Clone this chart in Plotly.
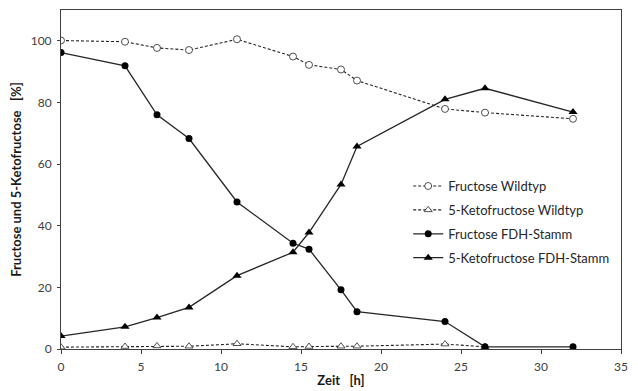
import plotly.graph_objects as go

x_wt = [0, 4, 6, 8, 11, 14.5, 15.5, 17.5, 18.5, 24, 26.5, 32]
fructose_wt = [100.1, 99.7, 97.7, 97.0, 100.5, 94.9, 92.2, 90.7, 87.1, 77.9, 76.7, 74.7]

x_kwt = [0, 4, 6, 8, 11, 14.5, 15.5, 17.5, 18.5, 24, 26.5]
keto_wt = [0.6, 0.8, 1.0, 0.9, 1.7, 0.7, 0.8, 0.9, 0.9, 1.6, 0.7]

x_fdh = [0, 4, 6, 8, 11, 14.5, 15.5, 17.5, 18.5, 24, 26.5, 32]
fructose_fdh = [96.2, 91.9, 76.0, 68.3, 47.7, 34.3, 32.4, 19.2, 12.1, 8.9, 0.7, 0.7]
keto_fdh = [4.2, 7.2, 10.2, 13.5, 23.8, 31.4, 37.8, 53.4, 65.7, 81.0, 84.6, 76.9]

names = ["Fructose Wildtyp", "5-Ketofructose Wildtyp", "Fructose FDH-Stamm", "5-Ketofructose FDH-Stamm"]

FONT = "Lato, 'Open Sans', sans-serif"
LC = "#262626"

fig = go.Figure()
fig.add_trace(go.Scatter(x=x_wt, y=fructose_wt, name=names[0], legendgroup="a", mode="lines+markers",
                         line=dict(color=LC, width=1.1, dash="3px,2px"),
                         marker=dict(symbol="circle", size=7, color="white", line=dict(color=LC, width=0.8))))
fig.add_trace(go.Scatter(x=x_kwt, y=keto_wt, name=names[1], legendgroup="b", mode="lines+markers",
                         line=dict(color=LC, width=1.1, dash="3px,2px"),
                         marker=dict(symbol="triangle-up", size=7, color="white", line=dict(color=LC, width=0.8))))
fig.add_trace(go.Scatter(x=x_fdh, y=fructose_fdh, name=names[2], legendgroup="c", mode="lines+markers",
                         line=dict(color=LC, width=1.3),
                         marker=dict(symbol="circle", size=7, color="black")))
fig.add_trace(go.Scatter(x=x_fdh, y=keto_fdh, name=names[3], legendgroup="d", mode="lines+markers",
                         line=dict(color=LC, width=1.3),
                         marker=dict(symbol="triangle-up", size=8, color="black")))

fig.update_layout(
    width=638, height=391,
    margin=dict(l=53, r=25, t=2, b=50),
    paper_bgcolor="white", plot_bgcolor="white",
    font=dict(family=FONT, size=12, color="#404040"),
    legend=dict(x=0.62, y=0.525, xanchor="left", yanchor="top",
                bgcolor="rgba(0,0,0,0)", itemwidth=30, tracegroupgap=4, traceorder="grouped",
                font=dict(family=FONT, size=13, color="#262626")),
    showlegend=True,
)
fig.update_xaxes(range=[0, 35], tickvals=[0, 5, 10, 15, 20, 25, 30, 35], automargin=False,
                 showgrid=False, zeroline=False, showline=True, linecolor="#404040", linewidth=1,
                 mirror=True, ticks="outside", ticklen=4, tickcolor="#404040", ticklabelstandoff=3,
                 title=dict(text="<b>Zeit   [h]</b>", standoff=2,
                            font=dict(family=FONT, size=13, color="#1a1a1a")))
fig.update_yaxes(range=[0, 110], tickvals=[0, 20, 40, 60, 80, 100], automargin=False,
                 showgrid=False, zeroline=False, showline=True, linecolor="#404040", linewidth=1,
                 mirror=True, ticks="outside", ticklen=3, tickcolor="#404040", ticklabelstandoff=3,
                 title=dict(text="<b>Fructose und 5-Ketofructose   [%]</b>", standoff=6,
                            font=dict(family=FONT, size=13, color="#1a1a1a")))

fig.write_html("out.html")
